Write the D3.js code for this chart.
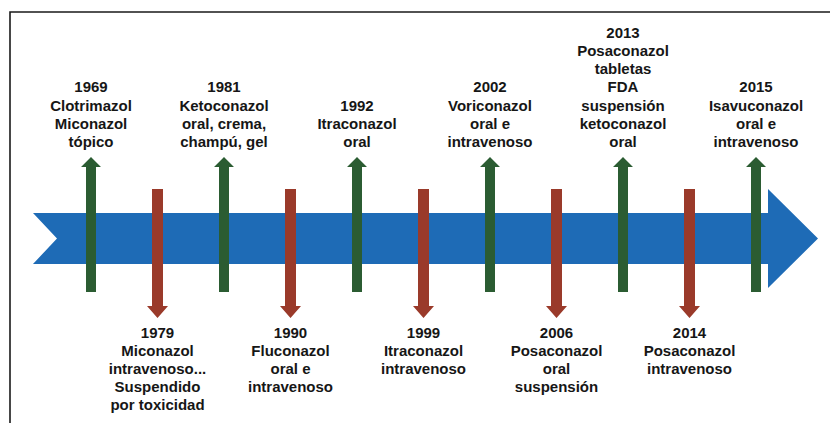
<!DOCTYPE html>
<head>
<meta charset="utf-8">
<style>
body { margin: 0; background: #fff; }
svg { display: block; }
.label {
    font-family: "Liberation Sans", Arial, sans-serif;
    font-weight: bold;
    font-size: 15px;
    fill: #161616;
    text-anchor: middle;
}
</style>
</head>
<body>
<script src="https://cdn.jsdelivr.net/npm/d3@7"></script>
<script>

// events along the timeline, in order
var years = ["1969", "1979", "1981", "1990", "1992", "1999", "2002", "2006", "2013", "2014", "2015"];
// up = label above (green arrow), down = label below (red arrow)
var directions = ["up", "down", "up", "down", "up", "down", "up", "down", "up", "down", "up"];
var labels = [
    ["Clotrimazol", "Miconazol", "tópico"],
    ["Miconazol", "intravenoso...", "Suspendido", "por toxicidad"],
    ["Ketoconazol", "oral, crema,", "champú, gel"],
    ["Fluconazol", "oral e", "intravenoso"],
    ["Itraconazol", "oral"],
    ["Itraconazol", "intravenoso"],
    ["Voriconazol", "oral e", "intravenoso"],
    ["Posaconazol", "oral", "suspensión"],
    ["Posaconazol", "tabletas", "FDA", "suspensión", "ketoconazol", "oral"],
    ["Posaconazol", "intravenoso"],
    ["Isavuconazol", "oral e", "intravenoso"]
];

var width = 830, height = 423;

var data = years.map(function(y, i) {
    return {year: y, dir: directions[i], lines: [y].concat(labels[i])};
});

var svg = d3.select("body").append("svg")
    .attr("width", width)
    .attr("height", height);

// frame (top and left edges only)
svg.append("path")
    .attr("d", "M10,423 L10,12 L830,12")
    .style("fill", "none")
    .style("stroke", "#1a1a1a")
    .style("stroke-width", 1.6);

// x position of each event
var x = d3.scalePoint()
    .domain(years)
    .range([91, 756]);

// the big blue arrow
var band = {top: 213, bottom: 264, headTop: 189, headBottom: 288,
            left: 33, notch: 57, bodyEnd: 768, tip: 818};
var mid = (band.top + band.bottom) / 2;
svg.append("path")
    .attr("d", d3.line()([
        [band.left, band.top], [band.bodyEnd, band.top], [band.bodyEnd, band.headTop],
        [band.tip, mid], [band.bodyEnd, band.headBottom], [band.bodyEnd, band.bottom],
        [band.left, band.bottom], [band.notch, mid]
    ]) + "Z")
    .style("fill", "#1e6bb6");

// arrow shapes
function upArrow(cx) {
    return d3.line()([
        [cx - 5, 292], [cx - 5, 167], [cx - 10, 167], [cx, 157],
        [cx + 10, 167], [cx + 5, 167], [cx + 5, 292]
    ]) + "Z";
}
function downArrow(cx) {
    return d3.line()([
        [cx - 5.5, 189], [cx + 5.5, 189], [cx + 5.5, 306], [cx + 10.5, 306],
        [cx, 318], [cx - 10.5, 306], [cx - 5.5, 306]
    ]) + "Z";
}

svg.selectAll(".marker")
    .data(data)
    .enter().append("path")
        .attr("class", "marker")
        .attr("d", function(d) { return d.dir == "up" ? upArrow(x(d.year)) : downArrow(x(d.year)); })
        .style("fill", function(d) { return d.dir == "up" ? "#2b5c32" : "#9a3a2a"; });

// labels
var lineH = 18.2;
var labelG = svg.selectAll(".label")
    .data(data)
    .enter().append("text")
        .attr("class", "label")
        .attr("x", function(d) { return x(d.year); })
        .attr("y", function(d) {
            return d.dir == "up" ? 147 - (d.lines.length - 1) * lineH : 337.5;
        });

labelG.selectAll("tspan")
    .data(function(d) { return d.lines.map(function(t) { return {t: t, cx: x(d.year)}; }); })
    .enter().append("tspan")
        .attr("x", function(d) { return d.cx; })
        .attr("dy", function(d, i) { return i == 0 ? 0 : lineH; })
        .text(function(d) { return d.t; });

</script>
</body>
